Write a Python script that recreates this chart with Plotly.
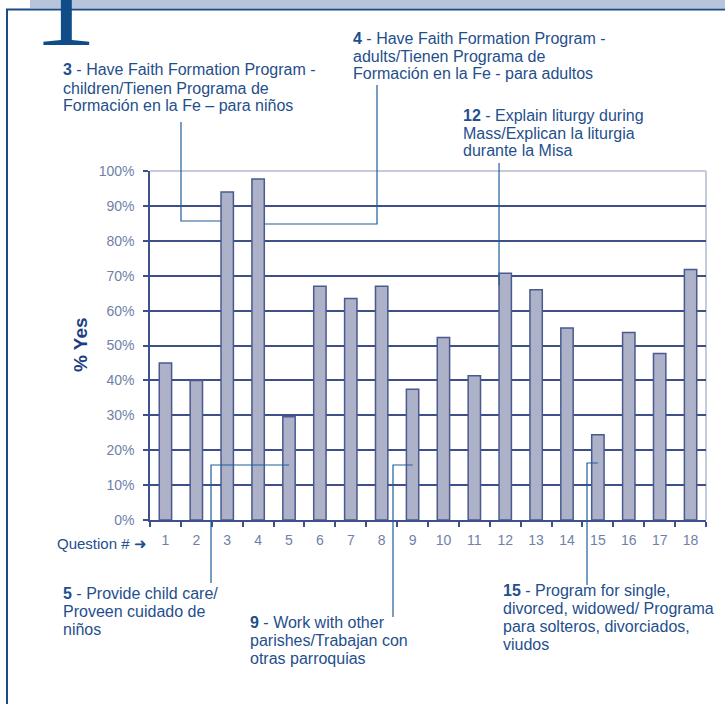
import plotly.graph_objects as go

# data
questions = [str(i) for i in range(1, 19)]
pct_yes = [45, 40, 94, 97.7, 29.6, 67, 63.5, 67, 37.5, 52.3, 41.3, 70.7, 66, 55, 24.4, 53.7, 47.7, 71.8]
y_ticks = [0, 10, 20, 30, 40, 50, 60, 70, 80, 90, 100]
y_tick_labels = [f"{v}%" for v in y_ticks]

notes_q = [3, 4, 12, 5, 9, 15]
notes_text = [
    ["<b>3</b> - Have Faith Formation Program -", "children/Tienen Programa de", "Formación en la Fe – para niños"],
    ["<b>4</b> - Have Faith Formation Program -", "adults/Tienen Programa de", "Formación en la Fe - para adultos"],
    ["<b>12</b> - Explain liturgy during", "Mass/Explican la liturgia", "durante la Misa"],
    ["<b>5</b> - Provide child care/", "Proveen cuidado de", "niños"],
    ["<b>9</b> - Work with other", "parishes/Trabajan con", "otras parroquias"],
    ["<b>15</b> - Program for single,", "divorced, widowed/ Programa", "para solteros, divorciados,", "viudos"],
]

W, H = 725, 704
L, R, T, B = 150, 706, 171, 520
DARK = "#3e4f8a"
TEXT = "#1f4f8c"
LEAD = "#1e5f9a"
FONT = "Liberation Sans, Arial, sans-serif"
BAR_W = 0.4


def px(x):
    return (x - L) / (R - L)


def py(y):
    return (B - y) / (B - T)


def bar_x(q, side=0):
    # paper x of a bar center (side=-1 left edge, +1 right edge)
    return (q - 0.5 + side * BAR_W / 2) / len(questions)


fig = go.Figure()
fig.add_trace(go.Bar(
    x=questions, y=pct_yes,
    marker=dict(color="#aeb2c8", line=dict(color="#4a5a90", width=1.5)),
    width=BAR_W,
))

shapes = []
# light top and right border of the plot
shapes.append(dict(type="line", xref="paper", yref="paper", x0=0, x1=1, y0=1, y1=1,
                   line=dict(color="#c6cbdc", width=2), layer="between"))
shapes.append(dict(type="line", xref="paper", yref="paper", x0=1, x1=1, y0=0, y1=1,
                   line=dict(color="#c6cbdc", width=2), layer="between"))

# page frame
shapes.append(dict(type="rect", xref="paper", yref="paper", x0=px(30), x1=px(W), y0=py(0), y1=py(8),
                   fillcolor="#b8c4dc", line=dict(width=0), layer="below"))
shapes.append(dict(type="line", xref="paper", yref="paper", x0=px(6), x1=px(W), y0=py(9.5), y1=py(9.5),
                   line=dict(color="#1a4c88", width=2)))
shapes.append(dict(type="line", xref="paper", yref="paper", x0=px(7), x1=px(7), y0=py(9.5), y1=py(W),
                   line=dict(color="#1a4c88", width=2)))

# leader lines
def path(points):
    d = "M " + " L ".join(f"{x},{y}" for x, y in points)
    shapes.append(dict(type="path", xref="paper", yref="paper", path=d,
                       line=dict(color=LEAD, width=1.2)))

path([(px(181), py(122)), (px(181), py(221)), (bar_x(3, -1), py(221))])
path([(px(377), py(85)), (px(377), py(224)), (bar_x(4, 1), py(224))])
path([(bar_x(12, -1), py(163)), (bar_x(12, -1), py(285))])
path([(px(211), py(583)), (px(211), py(465)), (bar_x(5), py(465))])
path([(px(393), py(617)), (px(393), py(465)), (bar_x(9), py(465))])
path([(px(587), py(585)), (px(587), py(463)), (bar_x(15), py(463))])

annotations = []
note_pos = [(61, 70), (351, 38), (461, 115), (61, 593), (248, 622), (501, 590)]
for (x0, y0), lines in zip(note_pos, notes_text):
    for i, line in enumerate(lines):
        annotations.append(dict(
            xref="paper", yref="paper", x=px(x0), y=py(y0 + 18 * i),
            xanchor="left", yanchor="middle", showarrow=False, text=line,
            font=dict(family=FONT, size=16, color=TEXT),
        ))

annotations.append(dict(
    xref="paper", yref="paper", x=px(149), y=py(543), xanchor="right", yanchor="middle",
    showarrow=False, text="Question # ➜", font=dict(family=FONT, size=15, color=TEXT),
))
annotations.append(dict(
    xref="paper", yref="paper", x=px(80), y=py(345), xanchor="center", yanchor="middle",
    showarrow=False, text="<b>% Yes</b>", textangle=-90,
    font=dict(family=FONT, size=19, color="#1d3f7f"),
))
annotations.append(dict(
    xref="paper", yref="paper", x=px(64), y=py(1), xanchor="center", yanchor="middle",
    showarrow=False, text="1", font=dict(family="Liberation Serif, serif", size=130, color="#0f4c88"),
))

fig.update_layout(
    width=W, height=H,
    margin=dict(l=L, r=W - R, t=T, b=H - B),
    paper_bgcolor="white", plot_bgcolor="white",
    showlegend=False,
    bargap=0.6,
    shapes=shapes,
    annotations=annotations,
    xaxis=dict(
        type="category", tickson="boundaries", ticks="outside", ticklen=5, tickwidth=1.5,
        tickcolor=DARK, showline=True, linecolor=DARK, linewidth=1.5, showgrid=False,
        tickfont=dict(family=FONT, size=14, color="#6f7fa8"), ticklabelstandoff=6,
    ),
    yaxis=dict(
        range=[0, 100], tickvals=y_ticks, ticktext=y_tick_labels,
        ticks="outside", ticklen=5, tickwidth=1.5, tickcolor=DARK,
        showline=True, linecolor=DARK, linewidth=1.5,
        showgrid=True, gridcolor=DARK, gridwidth=1.5, zeroline=False,
        tickfont=dict(family=FONT, size=14, color="#6f7fa8"), ticklabelstandoff=6,
    ),
)

fig.write_html("out.html", config={"displayModeBar": False},
               post_script="document.body.style.margin='0';")
